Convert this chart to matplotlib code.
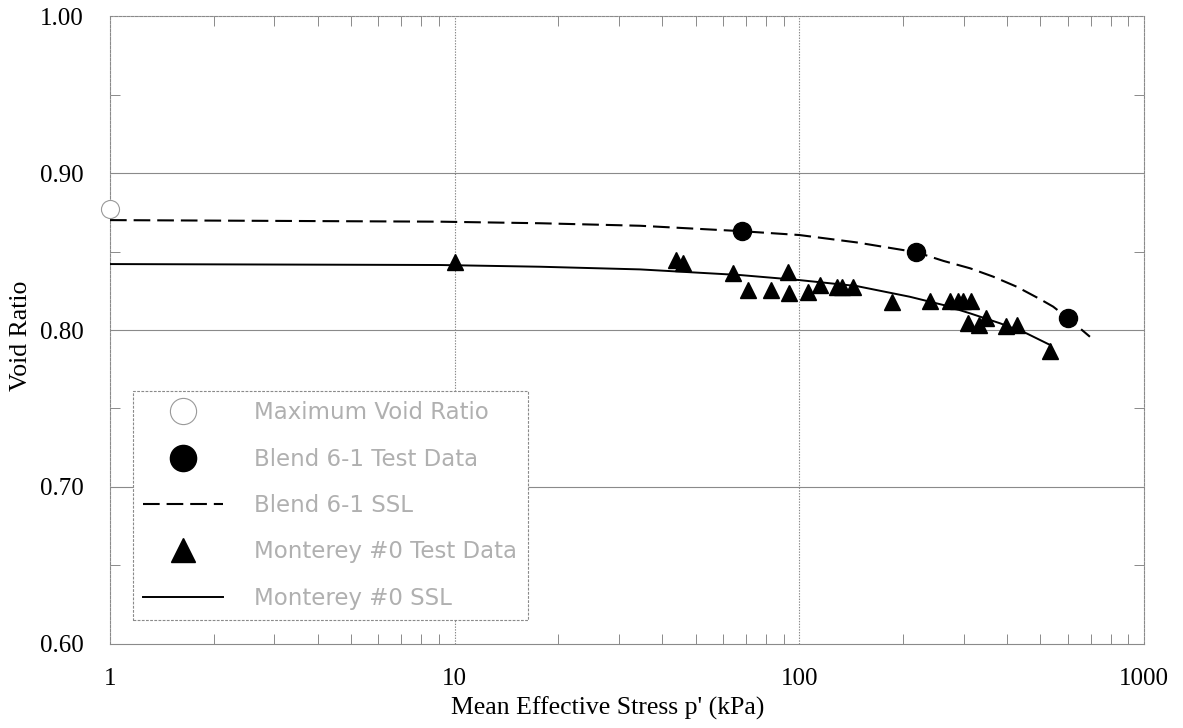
import matplotlib
matplotlib.use("Agg")
import matplotlib.pyplot as plt
from matplotlib.ticker import FixedLocator, NullFormatter

# maximum void ratio
max_p = [1.0]
max_e = [0.877]

# Blend 6-1 test data
blend_p = [68, 218, 601]
blend_e = [0.8628, 0.8495, 0.8076]

# Blend 6-1 SSL
blend_ssl_p = [1, 9.07, 17.7, 34.5, 67.4, 100, 146.6, 219, 262, 313, 365, 427, 499, 545, 603, 697]
blend_ssl_e = [0.870, 0.869, 0.868, 0.8664, 0.863, 0.8605, 0.8558, 0.8495, 0.844, 0.8393,
               0.834, 0.8276, 0.8197, 0.8149, 0.8074, 0.7957]

# Monterey #0 test data
mont_p = [10, 44, 46, 64, 71, 83, 93, 93.5, 106, 115, 129, 133, 143, 186,
          239, 273, 289, 299, 314, 308, 333, 349, 399, 427, 533]
mont_e = [0.843, 0.8445, 0.8425, 0.836, 0.8255, 0.8255, 0.837, 0.8234, 0.8244, 0.8287,
          0.8276, 0.8276, 0.8276, 0.818, 0.8187, 0.8187, 0.8187, 0.8187, 0.8187, 0.8047,
          0.8032, 0.8074, 0.8025, 0.8032, 0.7868]

# Monterey #0 SSL
mont_ssl_p = [1, 9.07, 17.7, 34.5, 67.4, 100, 146.6, 209, 262, 313, 382, 456, 535]
mont_ssl_e = [0.842, 0.8414, 0.8403, 0.8386, 0.835, 0.8318, 0.828, 0.8212, 0.8159, 0.8106,
              0.8043, 0.7979, 0.7904]

x_ticks = [1, 10, 100, 1000]
x_tick_labels = ["1", "10", "100", "1000"]
y_ticks = [0.60, 0.70, 0.80, 0.90, 1.00]
y_tick_labels = ["0.60", "0.70", "0.80", "0.90", "1.00"]

plt.rcParams['lines.scale_dashes'] = False
serif = "Liberation Serif"
grey = "#8a8a8a"

fig = plt.figure(figsize=(11.83, 7.28), dpi=100)
ax = fig.add_axes([0.093, 0.1154, 0.874, 0.8626])

ax.plot(blend_ssl_p, blend_ssl_e, color="black", lw=1.5, dashes=(12, 5),
        label="Blend 6-1 SSL", zorder=3)
ax.plot(mont_ssl_p, mont_ssl_e, color="black", lw=1.4, label="Monterey #0 SSL", zorder=3)
ax.plot(max_p, max_e, ls="none", marker="o", ms=13, mfc="white", mec="#999999",
        mew=0.8, clip_on=False, label="Maximum Void Ratio", zorder=4)
ax.plot(blend_p, blend_e, ls="none", marker="o", ms=13, color="black",
        label="Blend 6-1 Test Data", zorder=4)
ax.plot(mont_p, mont_e, ls="none", marker="^", ms=12, color="black",
        label="Monterey #0 Test Data", zorder=4)

ax.set_xscale("log")
ax.set_xlim(1, 1000)
ax.set_ylim(0.60, 1.00)

ax.xaxis.set_major_locator(FixedLocator(x_ticks))
ax.set_xticklabels(x_tick_labels)
ax.xaxis.set_minor_locator(FixedLocator([m * d for d in (1, 10, 100) for m in range(2, 10)]))
ax.xaxis.set_minor_formatter(NullFormatter())
ax.set_yticks(y_ticks)
ax.set_yticklabels(y_tick_labels)
ax.yaxis.set_minor_locator(FixedLocator([0.65, 0.75, 0.85, 0.95]))

ax.tick_params(which="both", direction="in", top=True, right=True, color=grey, width=0.7)
ax.tick_params(axis="x", which="major", length=0, pad=17, labelsize=18)
ax.tick_params(axis="y", which="major", length=0, pad=19, labelsize=18)
ax.tick_params(which="minor", length=7)
for lab in ax.get_xticklabels() + ax.get_yticklabels():
    lab.set_fontfamily(serif)

for y in (0.70, 0.80, 0.90):
    ax.axhline(y, color=grey, lw=0.8, zorder=1)
for x in (10, 100):
    ax.axvline(x, color=grey, lw=0.8, ls=(0, (1, 1)), zorder=1)

for name, s in ax.spines.items():
    s.set_color(grey)
    s.set_linewidth(0.8)
    if name != "bottom":
        s.set_linestyle((0, (2, 1)))

ax.set_xlabel("Mean Effective Stress p' (kPa)", fontsize=18.5, fontfamily=serif)
ax.xaxis.set_label_coords(0.481, -0.083)
ax.set_ylabel("Void Ratio", fontsize=18.5, fontfamily=serif)
ax.yaxis.set_label_coords(-0.075, 0.49)

h, l = ax.get_legend_handles_labels()
order = ["Maximum Void Ratio", "Blend 6-1 Test Data", "Blend 6-1 SSL",
         "Monterey #0 Test Data", "Monterey #0 SSL"]
handles = [h[l.index(name)] for name in order]
leg = ax.legend(handles, order, loc="lower left", bbox_to_anchor=(0.022, 0.038),
                borderaxespad=0, prop={"size": 16.5},
                markerscale=1.45, handlelength=3.5, handletextpad=1.35, labelspacing=1.02,
                borderpad=0.45, fancybox=False, framealpha=1, edgecolor=grey,
                labelcolor="#b0b0b0")
leg.get_frame().set_linewidth(0.8)
leg.get_frame().set_linestyle((0, (2, 1)))

fig.savefig("out.png", dpi=100)
